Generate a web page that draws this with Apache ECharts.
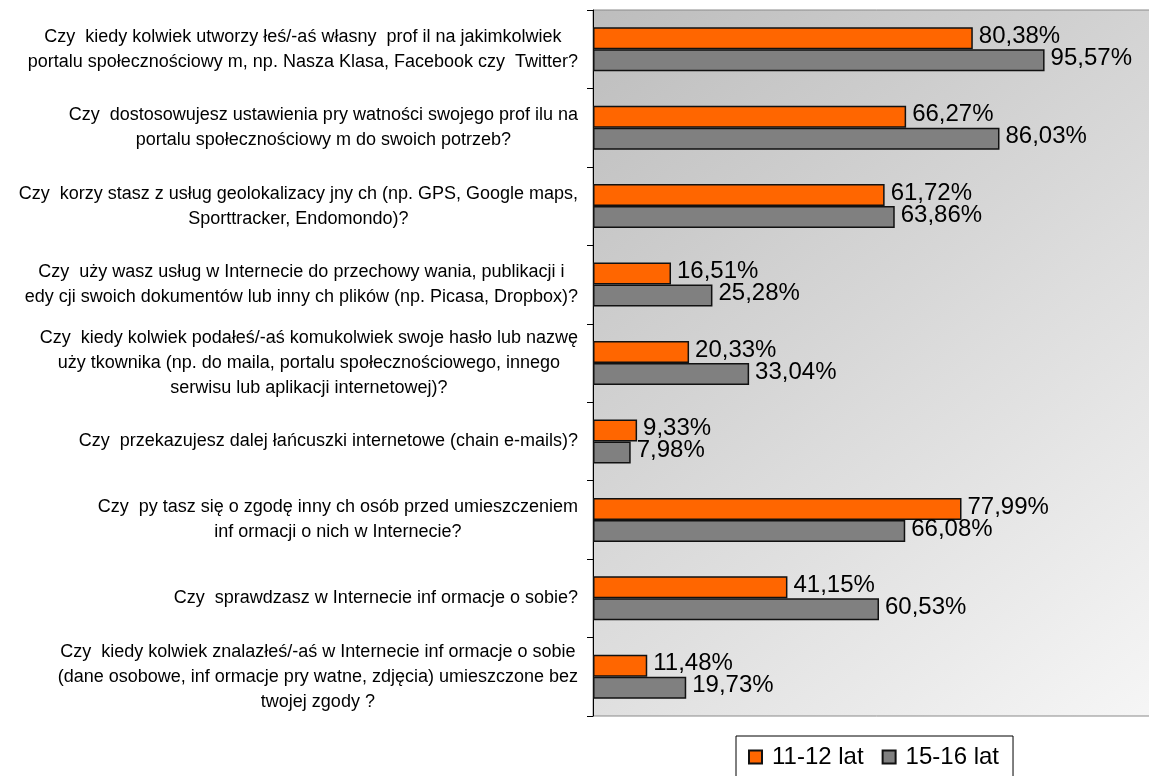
<!DOCTYPE html>
<html>
<head>
<meta charset="utf-8">
<script src="https://cdn.jsdelivr.net/npm/echarts@6/dist/echarts.min.js"></script>
<style>
  html, body { margin: 0; padding: 0; background: #fff; overflow: hidden; }
  /* plot area runs past the right edge of the window, as in the original */
  #main { width: 1160px; height: 776px; }
</style>
</head>
<body>
<div id="main"></div>
<script>
// pytania (kategorie)
var questions = [
  'Czy  kiedy kolwiek utworzy łeś/-aś własny  prof il na jakimkolwiek\nportalu społecznościowy m, np. Nasza Klasa, Facebook czy  Twitter?',
  'Czy  dostosowujesz ustawienia pry watności swojego prof ilu na\nportalu społecznościowy m do swoich potrzeb?',
  'Czy  korzy stasz z usług geolokalizacy jny ch (np. GPS, Google maps,\nSporttracker, Endomondo)?',
  'Czy  uży wasz usług w Internecie do przechowy wania, publikacji i\nedy cji swoich dokumentów lub inny ch plików (np. Picasa, Dropbox)?',
  'Czy  kiedy kolwiek podałeś/-aś komukolwiek swoje hasło lub nazwę\nuży tkownika (np. do maila, portalu społecznościowego, innego\nserwisu lub aplikacji internetowej)?',
  'Czy  przekazujesz dalej łańcuszki internetowe (chain e-mails)?',
  'Czy  py tasz się o zgodę inny ch osób przed umieszczeniem\ninf ormacji o nich w Internecie?',
  'Czy  sprawdzasz w Internecie inf ormacje o sobie?',
  'Czy  kiedy kolwiek znalazłeś/-aś w Internecie inf ormacje o sobie\n(dane osobowe, inf ormacje pry watne, zdjęcia) umieszczone bez\ntwojej zgody ?'
];

// odsetki w %
var lat11_12 = [80.38, 66.27, 61.72, 16.51, 20.33, 9.33, 77.99, 41.15, 11.48];
var lat15_16 = [95.57, 86.03, 63.86, 25.28, 33.04, 7.98, 66.08, 60.53, 19.73];

var seriesNames = ['11-12 lat', '15-16 lat'];

var FONT = '"Liberation Sans", Arial, sans-serif';

function pct(p) {
  return p.value.toFixed(2).replace('.', ',') + '%';
}

var myChart = echarts.init(document.getElementById('main'));

var option = {
  animation: false,
  textStyle: { fontFamily: FONT },
  grid: {
    left: 593,
    top: 10,
    bottom: 60,
    right: 0,
    show: true,
    borderColor: '#8a8a8a',
    borderWidth: 1,
    backgroundColor: new echarts.graphic.LinearGradient(0, 0, 1, 1, [
      { offset: 0, color: '#bdbdbd' },
      { offset: 1, color: '#f6f6f6' }
    ])
  },
  legend: {
    data: seriesNames,
    left: 736,
    top: 736,
    padding: [9, 14, 12, 12],
    itemGap: 18,
    itemWidth: 13,
    itemHeight: 13,
    icon: 'rect',
    borderColor: '#000',
    borderWidth: 1,
    borderRadius: 0,
    backgroundColor: '#fff',
    textStyle: { fontSize: 24, color: '#000', fontFamily: FONT, padding: [0, 0, 0, 5] }
  },
  xAxis: {
    type: 'value',
    min: 0,
    max: 120,
    axisLine: { show: false },
    axisTick: { show: false },
    axisLabel: { show: false },
    splitLine: { show: false }
  },
  yAxis: {
    type: 'category',
    inverse: true,
    data: questions,
    axisLine: { show: true, lineStyle: { color: '#000', width: 1 } },
    axisTick: { show: true, length: 6, lineStyle: { color: '#000' } },
    axisLabel: {
      margin: 15,
      color: '#000',
      fontSize: 18,
      lineHeight: 25,
      fontFamily: FONT,
      formatter: function (v) {
        return v.split('\n').map(function (l) { return '{c|' + l + '}'; }).join('\n');
      },
      rich: {
        c: { align: 'center', fontSize: 18, lineHeight: 25, color: '#000', fontFamily: FONT }
      }
    }
  },
  series: [
    {
      name: seriesNames[0],
      type: 'bar',
      data: lat11_12,
      barWidth: 22,
      barGap: '0%',
      itemStyle: { color: '#ff6600', borderColor: '#111', borderWidth: 1.5 },
      label: {
        show: true,
        position: 'right',
        distance: 6,
        offset: [0, -2],
        fontSize: 24,
        color: '#000',
        fontFamily: FONT,
        formatter: pct
      }
    },
    {
      name: seriesNames[1],
      type: 'bar',
      data: lat15_16,
      barWidth: 22,
      barGap: '0%',
      itemStyle: { color: '#808080', borderColor: '#111', borderWidth: 1.5 },
      label: {
        show: true,
        position: 'right',
        distance: 6,
        offset: [0, -2],
        fontSize: 24,
        color: '#000',
        fontFamily: FONT,
        formatter: pct
      }
    }
  ]
};

myChart.setOption(option);
</script>
</body>
</html>
